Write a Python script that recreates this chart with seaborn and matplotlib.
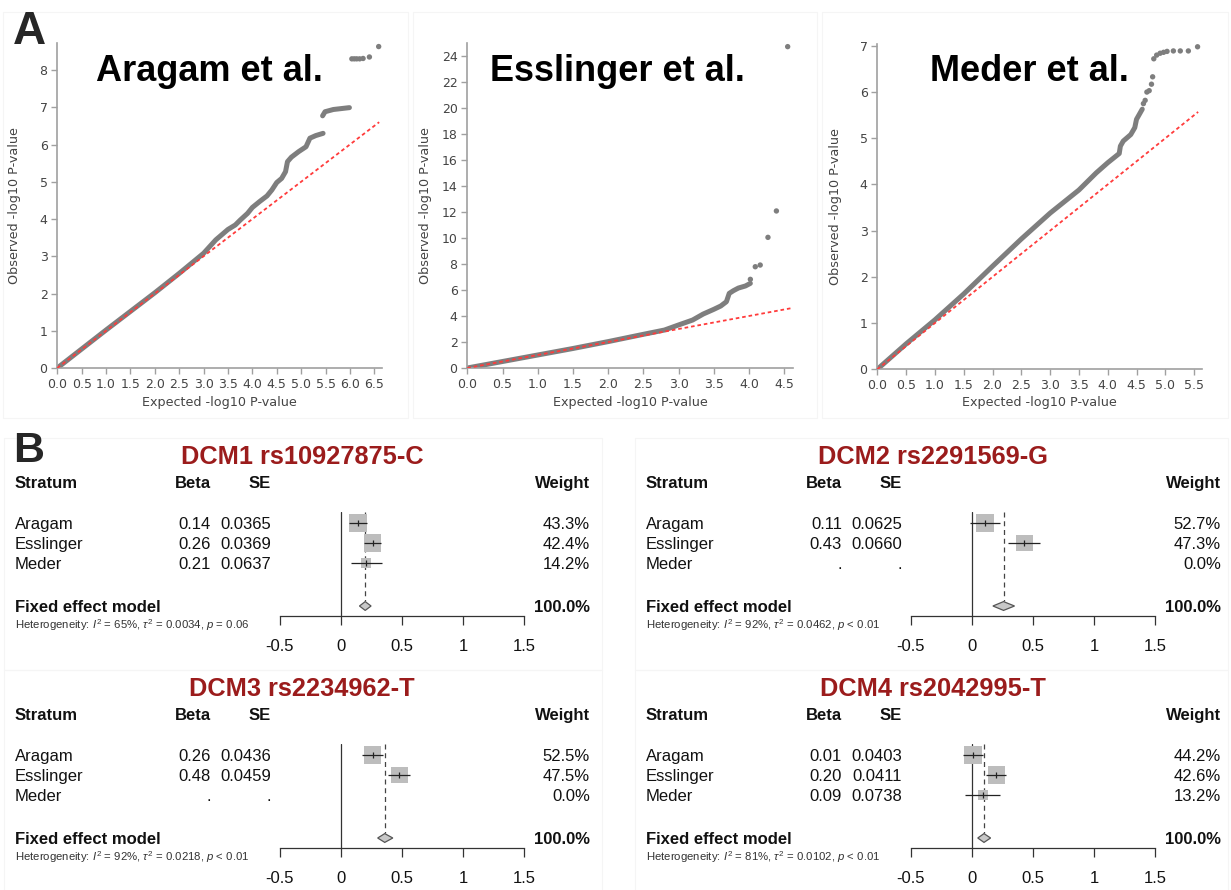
import numpy as np
import pandas as pd
import matplotlib
matplotlib.use("Agg")
import matplotlib.pyplot as plt
import seaborn as sns
from matplotlib.patches import Rectangle

sns.set_style("white")
plt.rcParams["font.family"] = ["DejaVu Sans"]
plt.rcParams["mathtext.fontset"] = "custom"
plt.rcParams["mathtext.rm"] = "Liberation Sans"
plt.rcParams["mathtext.it"] = "Liberation Sans:italic"

# ---------------- data: QQ plots (expected, observed -log10 P) ----------------
aragam_line_x = [0.0, 0.5, 1.0, 1.5, 2.0, 2.5, 3.0, 3.25, 3.5, 3.65, 3.75, 3.9, 4.0, 4.15,
                 4.3, 4.4, 4.5, 4.6, 4.68, 4.72, 4.8, 4.95, 5.1, 5.18, 5.3, 5.45]
aragam_line_y = [0.0, 0.51, 1.02, 1.52, 2.02, 2.54, 3.08, 3.44, 3.72, 3.84, 3.97, 4.15, 4.31, 4.47,
                 4.62, 4.78, 4.98, 5.09, 5.27, 5.54, 5.66, 5.81, 5.94, 6.17, 6.24, 6.30]
aragam_line2_x = [5.44, 5.49, 5.66, 5.99]
aragam_line2_y = [6.77, 6.88, 6.94, 6.99]
aragam_dots_x = [6.04, 6.09, 6.14, 6.20, 6.27, 6.40, 6.59]
aragam_dots_y = [8.30, 8.30, 8.30, 8.30, 8.31, 8.35, 8.63]
aragam_xticks = [0.0, 0.5, 1.0, 1.5, 2.0, 2.5, 3.0, 3.5, 4.0, 4.5, 5.0, 5.5, 6.0, 6.5]
aragam_yticks = [0, 1, 2, 3, 4, 5, 6, 7, 8]

esslinger_line_x = [0.0, 0.5, 1.0, 1.5, 2.0, 2.5, 2.8, 3.0, 3.2, 3.35, 3.5, 3.6, 3.68, 3.72,
                    3.78, 3.85, 3.95, 4.02]
esslinger_line_y = [0.0, 0.5, 1.0, 1.5, 2.03, 2.59, 2.92, 3.31, 3.69, 4.15, 4.51, 4.77, 5.10, 5.74,
                    5.95, 6.15, 6.31, 6.51]
esslinger_dots_x = [4.02, 4.09, 4.16, 4.27, 4.39, 4.55]
esslinger_dots_y = [6.82, 7.79, 7.92, 10.05, 12.08, 24.72]
esslinger_xticks = [0.0, 0.5, 1.0, 1.5, 2.0, 2.5, 3.0, 3.5, 4.0, 4.5]
esslinger_yticks = [0, 2, 4, 6, 8, 10, 12, 14, 16, 18, 20, 22, 24]

meder_line_x = [0.0, 0.5, 1.0, 1.5, 2.0, 2.5, 3.0, 3.5, 3.8, 4.0, 4.2, 4.22, 4.27, 4.4, 4.47, 4.5, 4.6]
meder_line_y = [0.0, 0.55, 1.07, 1.63, 2.23, 2.82, 3.38, 3.88, 4.25, 4.47, 4.67, 4.83, 4.94, 5.08, 5.23, 5.41, 5.63]
meder_dots_x = [4.62, 4.65, 4.68, 4.72, 4.76, 4.78, 4.80, 4.85, 4.91, 4.97, 5.03, 5.14, 5.26, 5.40, 5.56]
meder_dots_y = [5.75, 5.82, 6.00, 6.03, 6.17, 6.33, 6.72, 6.80, 6.84, 6.86, 6.88, 6.89, 6.89, 6.89, 6.98]
meder_xticks = [0.0, 0.5, 1.0, 1.5, 2.0, 2.5, 3.0, 3.5, 4.0, 4.5, 5.0, 5.5]
meder_yticks = [0, 1, 2, 3, 4, 5, 6, 7]

qq_titles = ["Aragam et al.", "Esslinger et al.", "Meder et al."]

# ---------------- data: forest plots ----------------
strata = ["Aragam", "Esslinger", "Meder"]
dcm_titles = ["DCM1 rs10927875-C", "DCM2 rs2291569-G", "DCM3 rs2234962-T", "DCM4 rs2042995-T"]
betas = [[0.14, 0.26, 0.21], [0.11, 0.43, np.nan], [0.26, 0.48, np.nan], [0.01, 0.20, 0.09]]
ses = [[0.0365, 0.0369, 0.0637], [0.0625, 0.0660, np.nan], [0.0436, 0.0459, np.nan],
       [0.0403, 0.0411, 0.0738]]
weights = [[43.3, 42.4, 14.2], [52.7, 47.3, 0.0], [52.5, 47.5, 0.0], [44.2, 42.6, 13.2]]
fixed_beta = [0.20, 0.26, 0.36, 0.10]
fixed_lo = [0.153, 0.173, 0.302, 0.049]
fixed_hi = [0.248, 0.350, 0.426, 0.154]
het_I2 = ["65%", "92%", "92%", "81%"]
het_tau2 = ["0.0034", "0.0462", "0.0218", "0.0102"]
het_p = ["= 0.06", "< 0.01", "< 0.01", "< 0.01"]
forest_xticks = [-0.5, 0, 0.5, 1, 1.5]
forest_xticklabels = ["-0.5", "0", "0.5", "1", "1.5"]

# ---------------- figure helpers ----------------
W, H = 1231, 890
fig = plt.figure(figsize=(W / 100, H / 100), dpi=100)
SANS = "Liberation Sans"


def px_axes(l, t, r, b):
    return fig.add_axes([l / W, 1 - b / H, (r - l) / W, (b - t) / H])


def ftext(x, y, s, **kw):
    return fig.text(x / W, 1 - y / H, s, **kw)


def frame(l, t, r, b):
    fig.patches.append(Rectangle((l / W, 1 - b / H), (r - l) / W, (b - t) / H,
                                 transform=fig.transFigure, fill=False,
                                 edgecolor="#f5f5f5", lw=0.8, zorder=0))


# ---------------- Panel A: QQ plots ----------------
GRAY = "#7e7e7e"
qq_specs = [
    dict(box=(57.3, 43.2, 381.6, 368.0), xmax=6.65, ymax=8.72,
         lines=[(aragam_line_x, aragam_line_y), (aragam_line2_x, aragam_line2_y)],
         dots=(aragam_dots_x, aragam_dots_y), diag=6.6, xt=aragam_xticks, yt=aragam_yticks,
         title_x=209, ylab_x=15),
    dict(box=(467.3, 43.0, 792.6, 368.0), xmax=4.62, ymax=25.0,
         lines=[(esslinger_line_x, esslinger_line_y)],
         dots=(esslinger_dots_x, esslinger_dots_y), diag=4.6, xt=esslinger_xticks,
         yt=esslinger_yticks, title_x=617, ylab_x=425),
    dict(box=(877.3, 44.0, 1201.6, 369.3), xmax=5.63, ymax=7.04,
         lines=[(meder_line_x, meder_line_y)],
         dots=(meder_dots_x, meder_dots_y), diag=5.57, xt=meder_xticks, yt=meder_yticks,
         title_x=1029, ylab_x=835),
]

for i, sp in enumerate(qq_specs):
    l, t, r, b = sp["box"]
    ax = px_axes(l, t, r, b)
    for xs, ys in sp["lines"]:
        sns.lineplot(x=xs, y=ys, ax=ax, color=GRAY, lw=3.6, sort=False, estimator=None,
                     solid_capstyle="round", zorder=2)
    sns.scatterplot(x=sp["dots"][0], y=sp["dots"][1], ax=ax, color=GRAY, s=15,
                    edgecolor="none", zorder=2, clip_on=False)
    ax.plot([0, sp["diag"]], [0, sp["diag"]], color="#ff3b3b", lw=1.3,
            ls=(0, (2, 1.6)), zorder=3)
    ax.set_xlim(0, sp["xmax"])
    ax.set_ylim(0, sp["ymax"])
    ax.set_xticks(sp["xt"])
    ax.set_xticklabels([f"{v:.1f}" for v in sp["xt"]])
    ax.set_yticks(sp["yt"])
    ax.set_yticklabels([str(v) for v in sp["yt"]])
    for s in ["top", "right"]:
        ax.spines[s].set_visible(False)
    for s in ["left", "bottom"]:
        ax.spines[s].set_color("#a0a0a0")
        ax.spines[s].set_linewidth(1.2)
    ax.tick_params(bottom=True, left=True, direction="out", length=4.5, width=1,
                   color="#a0a0a0", labelsize=9, labelcolor="#444444", pad=2.5)
    ax.set_xlabel("")
    ax.set_ylabel("")
    cx = (l + r) / 2
    ftext(cx, 406, "Expected -log10 P-value", ha="center", va="baseline",
          fontsize=9.2, color="#444444")
    ftext(sp["ylab_x"], (t + b) / 2, "Observed -log10 P-value", ha="center", va="center",
          rotation=90, fontsize=9.2, color="#444444")
    ftext(sp["title_x"], 81, qq_titles[i], ha="center", va="baseline", fontsize=26,
          fontweight="bold", family=SANS, color="black")

frame(3, 12, 408, 418)
frame(413, 12, 817, 418)
frame(822, 12, 1228, 418)

ftext(13, 44, "A", fontsize=33, fontweight="bold", family=SANS, va="baseline")
ftext(13, 462, "B", fontsize=31, fontweight="bold", family=SANS, va="baseline")

# ---------------- Panel B: forest plots ----------------
ROW_POS = [0, 1, 2]        # row positions of strata (axis units)
FIXED_POS = 4.15
YTOP, YBOT = -0.55, 4.635
TXT = "#111111"
DARK_RED = "#9b1c1c"

offsets = [(0, 0), (631, 0), (0, 232), (631, 232)]
for k, (dx, dy) in enumerate(offsets):
    frame(4 + dx, 438 + dy, 602 + dx if dx == 0 else 1228, 670 + dy)

    ftext(302 + dx, 464.3 + dy, dcm_titles[k], ha="center", va="baseline", fontsize=18.3,
          fontweight="bold", family=SANS, color=DARK_RED)
    hdr = dict(va="baseline", fontsize=12, fontweight="bold", family=SANS, color=TXT)
    ftext(15 + dx, 488.3 + dy, "Stratum", ha="left", **hdr)
    ftext(211 + dx, 488.3 + dy, "Beta", ha="right", **hdr)
    ftext(271 + dx, 488.3 + dy, "SE", ha="right", **hdr)
    ftext(590 + dx, 488.3 + dy, "Weight", ha="right", **hdr)

    reg = dict(va="baseline", fontsize=12, family=SANS, color=TXT)
    for j, name in enumerate(strata):
        yb = 529 + 20 * j + dy
        bval, sval, wval = betas[k][j], ses[k][j], weights[k][j]
        ftext(15 + dx, yb, name, ha="left", **reg)
        ftext(211 + dx, yb, "." if np.isnan(bval) else f"{bval:.2f}", ha="right", **reg)
        ftext(271 + dx, yb, "." if np.isnan(sval) else f"{sval:.4f}", ha="right", **reg)
        ftext(590 + dx, yb, f"{wval:.1f}%", ha="right", **reg)
    ftext(15 + dx, 611.7 + dy, "Fixed effect model", ha="left", **hdr)
    ftext(590 + dx, 611.7 + dy, "100.0%", ha="right", **hdr)
    het = (r"Heterogeneity: $I^2$ = " + het_I2[k] + r", $\tau^2$ = " + het_tau2[k]
           + r", $p$ " + het_p[k])
    ftext(15 + dx, 629 + dy, het, ha="left", va="baseline", fontsize=8.2, family=SANS,
          color="#333333")

    ax = px_axes(279.7 + dx, 512 + dy, 524 + dx, 615.7 + dy)
    b = np.array(betas[k], float)
    s = np.array(ses[k], float)
    w = np.array(weights[k], float)
    ok = ~np.isnan(b)
    rows = np.array(ROW_POS, float)[ok]
    lo = (b - 1.96 * s)[ok]
    hi = (b + 1.96 * s)[ok]
    side_pt = 17.5 * np.sqrt(w / w.max()) * 0.72
    ax.plot([0, 0], [YTOP, YBOT], color="#333333", lw=0.9, zorder=1)
    fe = fixed_beta[k]
    ax.plot([fe, fe], [YTOP, FIXED_POS - 0.25], color="#444444", lw=0.9,
            dashes=(4, 3), zorder=1)
    ax.scatter(b[ok], rows, s=side_pt[ok] ** 2, marker="s", color="#bdbdbd",
               linewidths=0, zorder=2)
    ax.hlines(rows, lo, hi, color="#222222", lw=0.9, zorder=3)
    sns.scatterplot(x=b[ok], y=rows, ax=ax, marker="|", s=22, color="#222222",
                    linewidth=0.9, zorder=4)
    ax.fill([fixed_lo[k], fe, fixed_hi[k], fe],
            [FIXED_POS, FIXED_POS - 0.22, FIXED_POS, FIXED_POS + 0.22],
            facecolor="#c8c8c8", edgecolor="#555555", lw=0.9, zorder=3)
    ax.set_xlim(-0.5, 1.5)
    ax.set_ylim(YBOT, YTOP)
    ax.set_xticks(forest_xticks)
    ax.set_xticklabels(forest_xticklabels, family=SANS, fontsize=12, color=TXT)
    ax.set_yticks([])
    ax.set_xlabel("")
    ax.set_ylabel("")
    for sname in ["top", "right", "left"]:
        ax.spines[sname].set_visible(False)
    ax.spines["bottom"].set_color("#333333")
    ax.spines["bottom"].set_linewidth(0.9)
    ax.tick_params(axis="x", bottom=True, direction="out", length=6.7, width=0.9,
                   color="#333333", pad=10)
    ax.patch.set_alpha(0)

fig.savefig("out.png", dpi=100, facecolor="white")
